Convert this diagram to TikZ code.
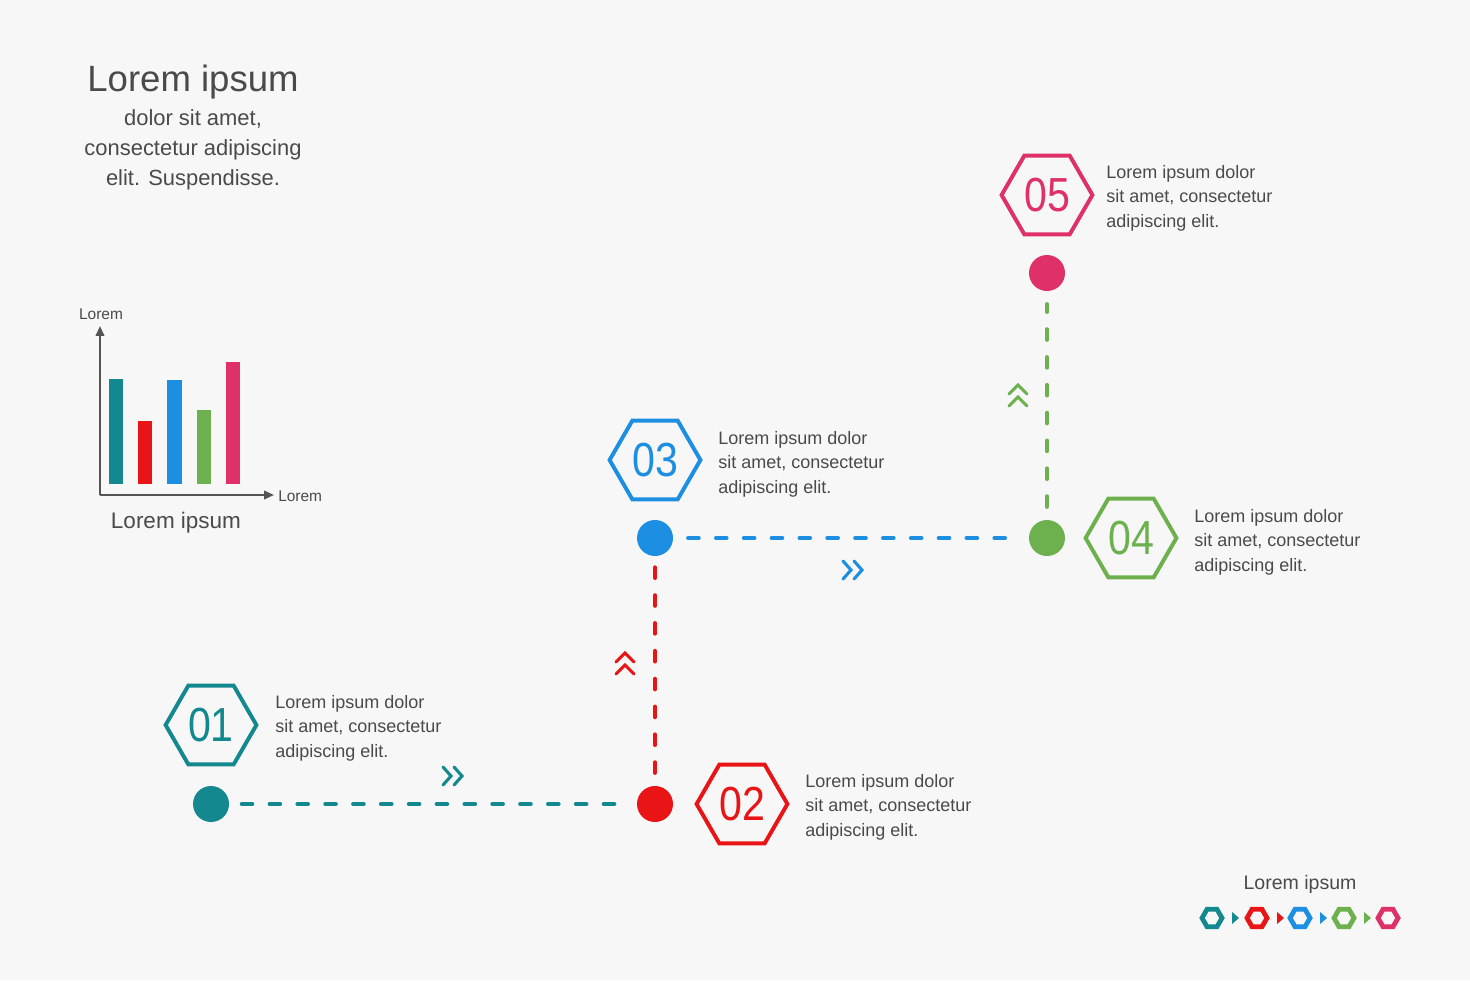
\documentclass[tikz,border=0pt]{standalone}
\usepackage{fontspec}
\setmainfont{Liberation Sans}
\usetikzlibrary{shapes.geometric,arrows.meta}
\definecolor{bgc}{HTML}{F7F7F7}
\definecolor{txt}{HTML}{4A4A4A}
\definecolor{axisc}{HTML}{555555}
\definecolor{cteal}{HTML}{13898F}
\definecolor{cred}{HTML}{E81416}
\definecolor{cblue}{HTML}{1D8FE3}
\definecolor{cgreen}{HTML}{6DB14F}
\definecolor{cpink}{HTML}{DF3168}
\newcommand{\hexnum}[1]{\scalebox{0.86}[1]{#1}}
\begin{document}
\begin{tikzpicture}[x=0.025cm,y=-0.025cm,
 hexa/.style={regular polygon, regular polygon sides=6, draw=#1, line width=2.8pt, minimum size=2.27cm, inner sep=0pt, text=#1, font=\fontsize{34}{38}\selectfont},
 minihex/.style={regular polygon, regular polygon sides=6, draw=#1, line width=3.4pt, minimum size=0.5cm, inner sep=0pt},
 dot/.style={circle, fill=#1, minimum size=0.9cm, inner sep=0pt},
 conn/.style={draw=#1, line width=2.8pt, line cap=round, dash pattern=on 7.6pt off 12.2pt},
 desc/.style={anchor=west, align=left, inner sep=0pt, text=txt, font=\fontsize{12.8}{17.4}\selectfont},
 chev/.style={draw=#1, line width=2.2pt, line cap=round, line join=miter},
 bar/.style={fill=#1},
 axisline/.style={draw=axisc, line width=1.4pt, -{Triangle[length=7pt,width=6pt]}},
 small/.style={text=txt, inner sep=0pt, font=\fontsize{11}{13}\selectfont},
]
\fill[bgc] (0,0) rectangle (1470,980);

% title
\node[text=txt, font=\fontsize{26}{30}\selectfont, inner sep=0pt] (title) at (193,82) {Lorem ipsum};
\node[text=txt, align=center, inner sep=0pt, font=\fontsize{15.6}{21.3}\selectfont] (sub) at (193,150) {dolor sit amet,\\consectetur adipiscing\\elit. Suspendisse.};

% chart
\coordinate (origin) at (100,495);
\coordinate (ytip) at (100,326);
\coordinate (xtip) at (274,495);
\draw[axisline] (origin) -- (ytip);
\draw[axisline] (origin) -- (xtip);
\fill[bar=cteal] (109,379) rectangle (123,484);
\fill[bar=cred] (138,421) rectangle (152,484);
\fill[bar=cblue] (167,380) rectangle (182,484);
\fill[bar=cgreen] (197,410) rectangle (211,484);
\fill[bar=cpink] (226,362) rectangle (240,484);
\node[small] (ylab) at (101,314) {Lorem};
\node[small, anchor=west] (xlab) at (278,496) {Lorem};
\node[text=txt, inner sep=0pt, font=\fontsize{16}{19}\selectfont] (cap) at (176,523) {Lorem ipsum};

% dots
\node[dot=cteal] (d1) at (211,804) {};
\node[dot=cred] (d2) at (655,804) {};
\node[dot=cblue] (d3) at (655,538) {};
\node[dot=cgreen] (d4) at (1047,538) {};
\node[dot=cpink] (d5) at (1047,273) {};

% connectors
\draw[conn=cteal, shorten <=0.31cm, shorten >=0.37cm] (d1) -- (d2);
\draw[conn=cred, shorten <=0.32cm, shorten >=0.17cm] (d2) -- (d3);
\draw[conn=cblue, shorten <=0.37cm, shorten >=0.37cm] (d3) -- (d4);
\draw[conn=cgreen, shorten <=0.32cm, shorten >=0.32cm] (d4) -- (d5);

% hexagons
\node[hexa=cteal] (h1) at (211,725) {\hexnum{01}};
\node[hexa=cred] (h2) at (742,804) {\hexnum{02}};
\node[hexa=cblue] (h3) at (655,460) {\hexnum{03}};
\node[hexa=cgreen] (h4) at (1131,538) {\hexnum{04}};
\node[hexa=cpink] (h5) at (1047,195) {\hexnum{05}};

% descriptions
\node[desc] (t1) at (275,728) {Lorem ipsum dolor\\sit amet, consectetur\\adipiscing elit.};
\node[desc] (t2) at (805,807) {Lorem ipsum dolor\\sit amet, consectetur\\adipiscing elit.};
\node[desc] (t3) at (718,464) {Lorem ipsum dolor\\sit amet, consectetur\\adipiscing elit.};
\node[desc] (t4) at (1194,542) {Lorem ipsum dolor\\sit amet, consectetur\\adipiscing elit.};
\node[desc] (t5) at (1106,198) {Lorem ipsum dolor\\sit amet, consectetur\\adipiscing elit.};

% chevrons
\draw[chev=cteal] (443,767) -- (451,776) -- (443,785) (454,767) -- (462,776) -- (454,785);
\draw[chev=cblue] (843,561) -- (851,570) -- (843,579) (854,561) -- (862,570) -- (854,579);
\draw[chev=cred] (616,662) -- (625,653) -- (634,662) (616,674) -- (625,665) -- (634,674);
\draw[chev=cgreen] (1009,394) -- (1018,385) -- (1027,394) (1009,406) -- (1018,397) -- (1027,406);

% legend
\node[text=txt, inner sep=0pt, font=\fontsize{13.9}{16}\selectfont] (leg) at (1300,884) {Lorem ipsum};
\node[minihex=cteal] (m1) at (1212,918) {};
\node[minihex=cred] (m2) at (1257,918) {};
\node[minihex=cblue] (m3) at (1300,918) {};
\node[minihex=cgreen] (m4) at (1344,918) {};
\node[minihex=cpink] (m5) at (1388,918) {};
\fill[cteal] (1232,912) -- (1239,918) -- (1232,924) -- cycle;
\fill[cred] (1277,912) -- (1284,918) -- (1277,924) -- cycle;
\fill[cblue] (1320,912) -- (1327,918) -- (1320,924) -- cycle;
\fill[cgreen] (1364,912) -- (1371,918) -- (1364,924) -- cycle;
\end{tikzpicture}
\end{document}
